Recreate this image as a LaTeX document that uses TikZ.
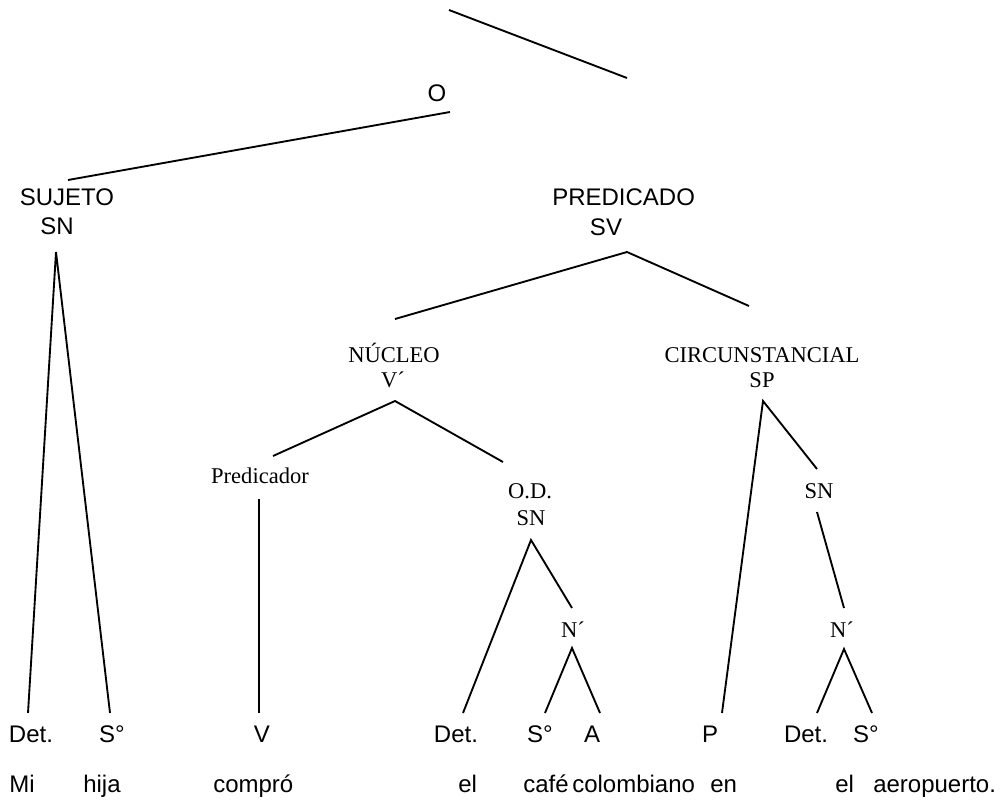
\documentclass[tikz,border=0pt]{standalone}
\usepackage{fontspec}
\setmainfont{Liberation Serif}
\newfontfamily\lsans{Liberation Sans}
\begin{document}
\begin{tikzpicture}[x=0.75pt,y=-0.75pt,
  sanslab/.style={font=\lsans\fontsize{18}{20}\selectfont, inner sep=0pt, anchor=base},
  seriflab/.style={font=\fontsize{16.9}{19}\selectfont, inner sep=0pt, anchor=base},
  word/.style={font=\lsans\fontsize{18}{20}\selectfont, inner sep=0pt, anchor=base west},
  branch/.style={line width=1.4pt}]
\useasboundingbox (0,0) rectangle (1000,810);

% upper levels
\node[sanslab] (o) at (437,101) {O};
\node[sanslab] (sujeto) at (67,205) {SUJETO};
\node[sanslab] (snsuj) at (57,234) {SN};
\node[sanslab, anchor=base west] (predicado) at (552,205) {PREDICADO};
\node[sanslab] (sv) at (606,235) {SV};

\node[seriflab] (nucleo) at (394,362) {NÚCLEO};
\node[seriflab] (vbar) at (393,387) {V´};
\node[seriflab] (circ) at (762,362) {CIRCUNSTANCIAL};
\node[seriflab] (sp) at (762,387) {SP};

\node[seriflab] (predicador) at (260,483) {Predicador};
\node[seriflab] (od) at (530,498) {O.D.};
\node[seriflab] (snod) at (531,525) {SN};
\node[seriflab] (nbarod) at (573,637) {N´};
\node[seriflab] (snsp) at (819,498) {SN};
\node[seriflab] (nbarsp) at (842,637) {N´};

% terminal categories
\node[sanslab] (det1) at (31,742) {Det.};
\node[sanslab] (s1) at (112,742) {S°};
\node[sanslab] (v) at (262,742) {V};
\node[sanslab] (det2) at (456,742) {Det.};
\node[sanslab] (s2) at (540,742) {S°};
\node[sanslab] (a) at (592,742) {A};
\node[sanslab] (p) at (710,742) {P};
\node[sanslab] (det3) at (806,742) {Det.};
\node[sanslab] (s3) at (866,742) {S°};

% sentence
\node[word] (w1) at (9,792) {Mi};
\node[word] (w2) at (83,792) {hija};
\node[word] (w3) at (213,792) {compró};
\node[word] (w4) at (458,792) {el};
\node[word] (w5) at (523,792) {café};
\node[word] (w6) at (572,792) {colombiano};
\node[word] (w7) at (710,792) {en};
\node[word] (w8) at (835,792) {el};
\node[word] (w9) at (873,792) {aeropuerto.};

% branch end points
\coordinate (top-a) at (449,10);
\coordinate (top-b) at (627,78);
\coordinate (o-foot) at (450,112);
\coordinate (sujeto-head) at (68,180);
\coordinate (snsuj-foot) at (56,252);
\coordinate (det1-head) at (28,713);
\coordinate (s1-head) at (110,713);
\coordinate (sv-foot) at (627,252);
\coordinate (nucleo-head) at (395,319);
\coordinate (circ-head) at (749,306);
\coordinate (vbar-foot) at (395,401);
\coordinate (predicador-head) at (273,456);
\coordinate (od-head) at (503,462);
\coordinate (predicador-foot) at (259,499);
\coordinate (v-head) at (259,713);
\coordinate (snod-foot) at (531,540);
\coordinate (det2-head) at (463,713);
\coordinate (nbarod-head) at (572,608);
\coordinate (nbarod-foot) at (572,648);
\coordinate (s2-head) at (545,713);
\coordinate (a-head) at (600,713);
\coordinate (sp-foot) at (763,401);
\coordinate (p-head) at (722,713);
\coordinate (snsp-head) at (817,469);
\coordinate (snsp-foot) at (817,512);
\coordinate (nbarsp-head) at (844,608);
\coordinate (nbarsp-foot) at (844,649);
\coordinate (det3-head) at (817,713);
\coordinate (s3-head) at (872,713);

% branches
\draw[branch] (top-a) -- (top-b);
\draw[branch] (o-foot) -- (sujeto-head);
\draw[branch] (det1-head) -- (snsuj-foot) -- (s1-head);
\draw[branch] (nucleo-head) -- (sv-foot) -- (circ-head);
\draw[branch] (predicador-head) -- (vbar-foot) -- (od-head);
\draw[branch] (predicador-foot) -- (v-head);
\draw[branch] (det2-head) -- (snod-foot) -- (nbarod-head);
\draw[branch] (s2-head) -- (nbarod-foot) -- (a-head);
\draw[branch] (p-head) -- (sp-foot) -- (snsp-head);
\draw[branch] (snsp-foot) -- (nbarsp-head);
\draw[branch] (det3-head) -- (nbarsp-foot) -- (s3-head);
\end{tikzpicture}
\end{document}
